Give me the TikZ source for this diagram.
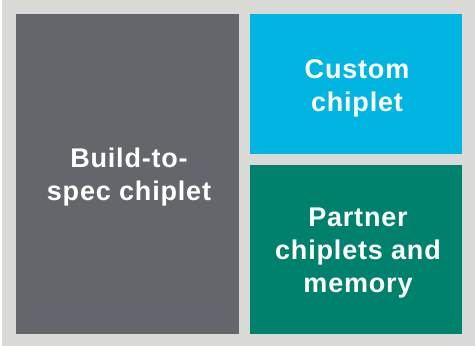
\documentclass[tikz,border=0pt]{standalone}
\usepackage{fontspec}
\setmainfont{Liberation Sans}[LetterSpace=3]
\definecolor{bggray}{HTML}{D9D9D5}
\definecolor{darkgray}{HTML}{63666A}
\definecolor{cyanblue}{HTML}{00B5E2}
\definecolor{tealgreen}{HTML}{00816D}
\begin{document}
\begin{tikzpicture}[x=1pt,y=-1pt,
  blocktext/.style={text=white,font=\fontsize{27}{33}\selectfont\bfseries,align=center,inner sep=0pt}]
\useasboundingbox (0,0) rectangle (475,346);
\fill[white] (0,0) rectangle (475,346);
\fill[bggray] (2,0) rectangle (475,346);
\fill[darkgray] (16,14) rectangle (239,334);
\fill[cyanblue] (250,14) rectangle (462,154);
\fill[tealgreen] (250,165) rectangle (462,334);
\node[blocktext] (build) at (129,177) {Build-to-\\spec chiplet};
\node[blocktext] (custom) at (357,88) {Custom\\chiplet};
\node[blocktext] (partner) at (358,253) {Partner\\chiplets and\\memory};
\end{tikzpicture}
\end{document}
